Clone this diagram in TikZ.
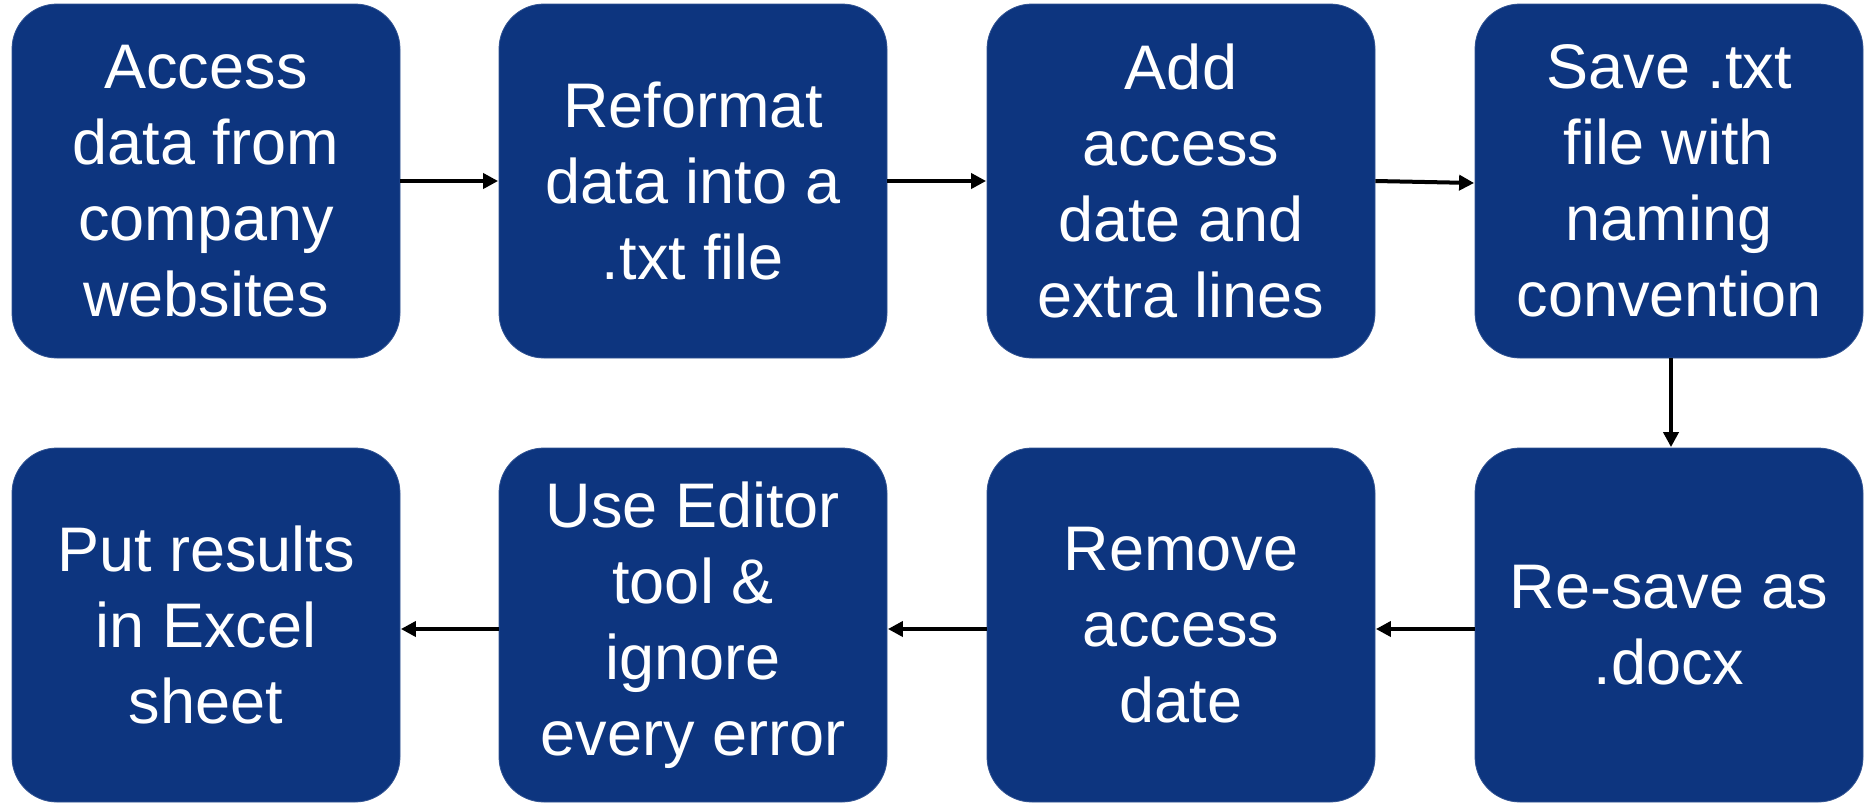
\documentclass[tikz,border=0pt]{standalone}
\usepackage{fontspec}
\setmainfont{Liberation Sans}
\usetikzlibrary{arrows.meta}
\definecolor{boxblue}{RGB}{13,53,127}
\tikzset{
  stepbox/.style={rounded corners=45pt, fill=boxblue, draw=boxblue!85!white, line width=0.8pt,
    text=white, minimum width=388pt, minimum height=354pt, inner sep=0pt, align=center,
    font=\fontsize{63}{76}\selectfont},
  flow/.style={line width=4pt, -{Triangle[length=15pt,width=15pt]}, shorten >=0.5pt}
}
\begin{document}
\begin{tikzpicture}[x=1pt,y=-1pt]
\useasboundingbox (0,0) rectangle (1864,804);
\node[stepbox] (b1) at (206,181) {Access\\data from\\company\\websites};
\node[stepbox] (b2) at (693,181) {Reformat\\data into a\\.txt file};
\node[stepbox] (b3) at (1181,181) {Add\\access\\date and\\extra lines};
\node[stepbox] (b4) at (1669,181) {Save .txt\\file with\\naming\\convention};
\node[stepbox] (b5) at (1669,625) {Re-save as\\.docx};
\node[stepbox] (b6) at (1181,625) {Remove\\access\\date};
\node[stepbox] (b7) at (693,625) {Use Editor\\tool \&\\ignore\\every error};
\node[stepbox] (b8) at (206,625) {Put results\\in Excel\\sheet};
\draw[flow] (b1.east) -- (b2.west);
\draw[flow] (b2.east) -- (b3.west);
\draw[flow] (b3.east) -- ([yshift=-2pt]b4.west);
\draw[flow] ([xshift=2pt]b4.south) -- ([xshift=2pt]b5.north);
\draw[flow] ([yshift=-4pt]b5.west) -- ([yshift=-4pt]b6.east);
\draw[flow] ([yshift=-4pt]b6.west) -- ([yshift=-4pt]b7.east);
\draw[flow] ([yshift=-4pt]b7.west) -- ([yshift=-4pt]b8.east);
\end{tikzpicture}
\end{document}
